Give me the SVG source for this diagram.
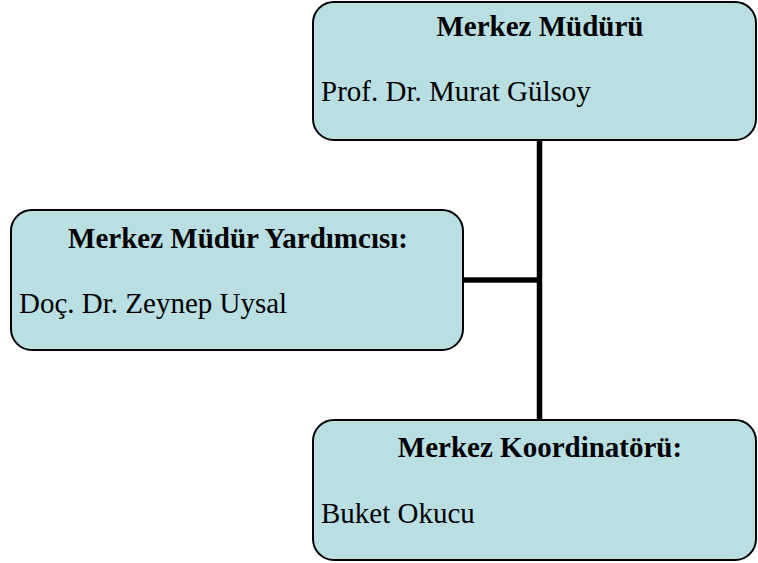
<svg xmlns="http://www.w3.org/2000/svg" width="758" height="563" viewBox="0 0 758 563">
<style>
.box{fill:#b9dfe3;stroke:#000;stroke-width:2}
.t{font-family:"Liberation Serif","Times New Roman",serif;font-size:29px;fill:#000}
.b{font-weight:bold;text-anchor:middle}
.conn{stroke:#000;stroke-width:5.5;fill:none}
</style>
<rect width="758" height="563" fill="#fff"/>
<g id="connectors">
<line class="conn" x1="539.5" y1="140" x2="539.5" y2="420"/>
<line class="conn" x1="463" y1="280" x2="542" y2="280"/>
</g>
<g id="node-mudur">
<rect class="box" x="313" y="2" width="443" height="138" rx="21" ry="21"/>
<text class="t b" x="540" y="36">Merkez Müdürü</text>
<text class="t" x="321" y="101">Prof. Dr. Murat Gülsoy</text>
</g>
<g id="node-yardimci">
<rect class="box" x="11" y="210" width="452" height="140" rx="21" ry="21"/>
<text class="t b" x="238" y="248">Merkez Müdür Yardımcısı:</text>
<text class="t" x="19" y="313">Doç. Dr. Zeynep Uysal</text>
</g>
<g id="node-koordinator">
<rect class="box" x="313" y="420" width="443" height="140" rx="21" ry="21"/>
<text class="t b" x="540" y="457">Merkez Koordinatörü:</text>
<text class="t" x="321" y="523">Buket Okucu</text>
</g>
</svg>
